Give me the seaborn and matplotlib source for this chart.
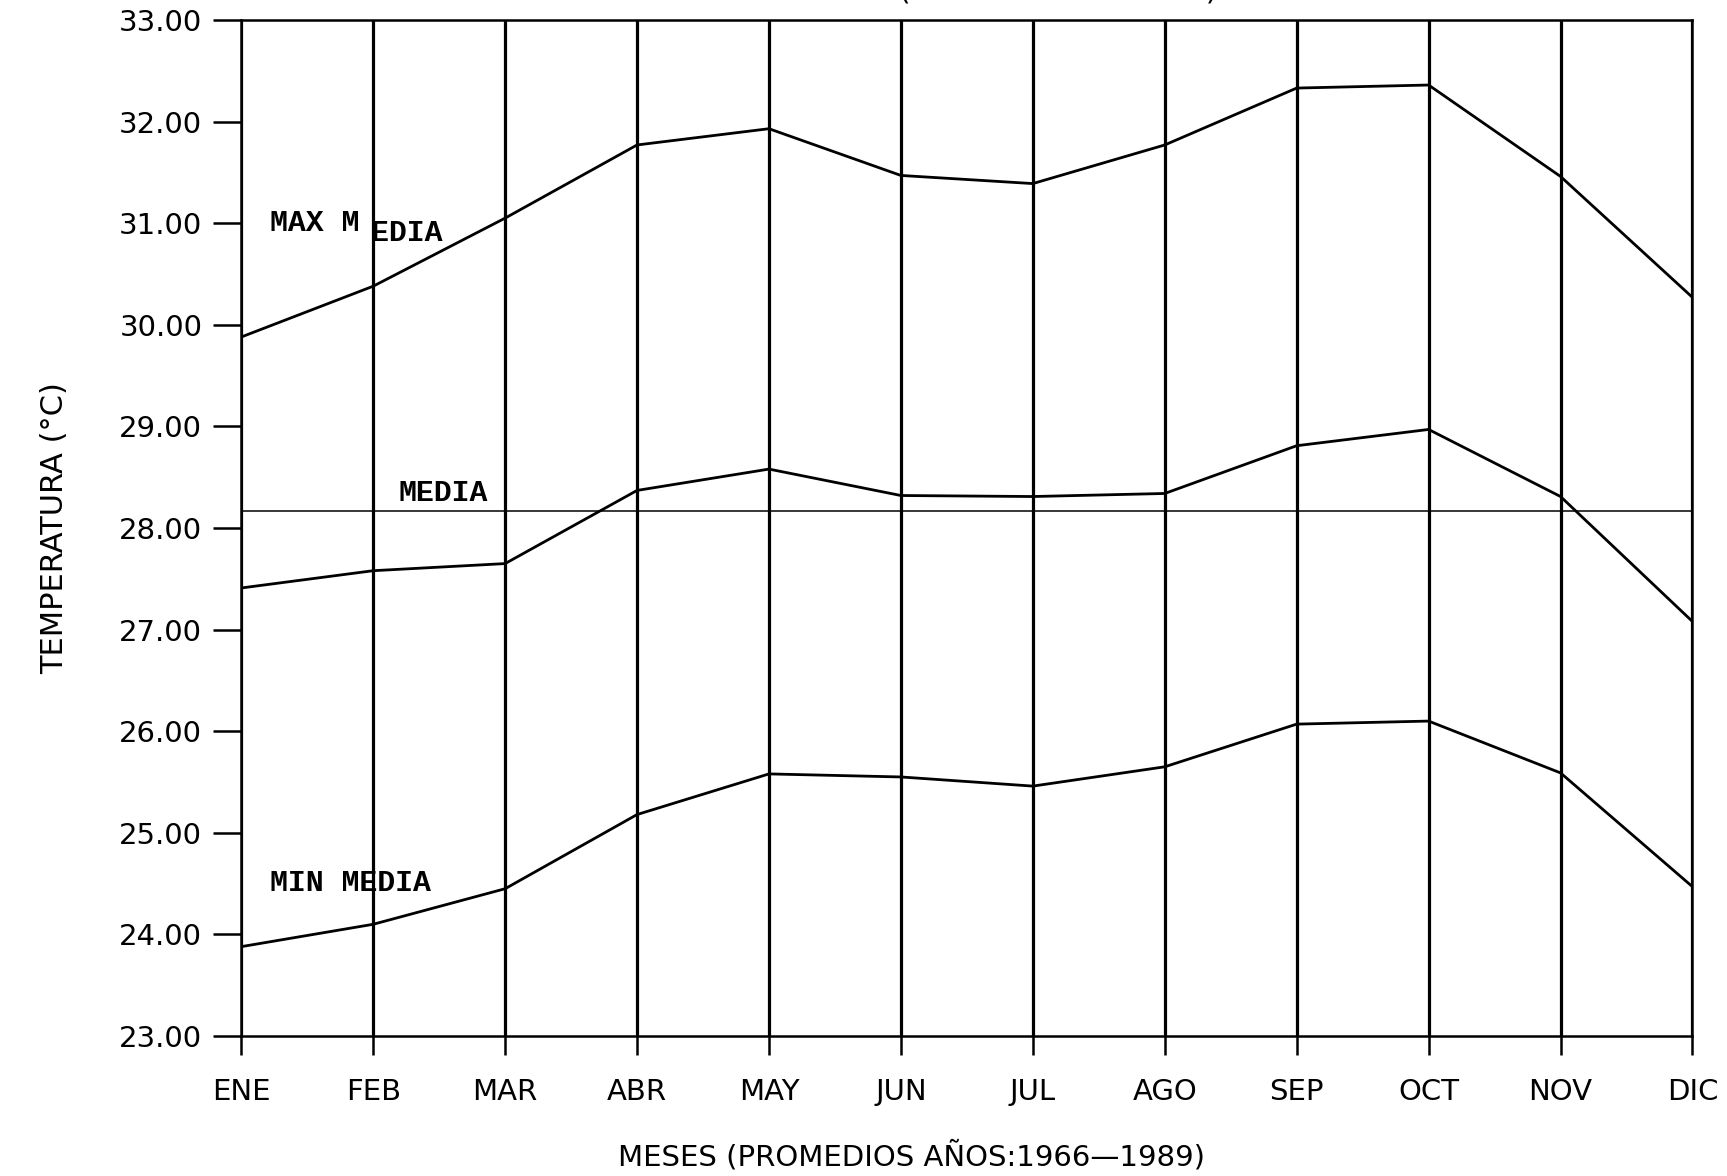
import matplotlib
matplotlib.use("Agg")
import matplotlib.pyplot as plt
import seaborn as sns
import pandas as pd

months = ["ENE", "FEB", "MAR", "ABR", "MAY", "JUN", "JUL", "AGO", "SEP", "OCT", "NOV", "DIC"]
max_media = [29.88, 30.38, 31.05, 31.77, 31.93, 31.47, 31.39, 31.77, 32.33, 32.36, 31.46, 30.27]
media = [27.41, 27.58, 27.65, 28.37, 28.58, 28.32, 28.31, 28.34, 28.81, 28.97, 28.31, 27.08]
min_media = [23.88, 24.10, 24.45, 25.18, 25.58, 25.55, 25.46, 25.65, 26.07, 26.10, 25.59, 24.47]
media_anual = 28.17
yticks = [23, 24, 25, 26, 27, 28, 29, 30, 31, 32, 33]

df = pd.DataFrame({
    "mes": list(range(len(months))) * 3,
    "temp": max_media + media + min_media,
    "serie": ["MAX MEDIA"] * 12 + ["MEDIA"] * 12 + ["MIN MEDIA"] * 12,
})

sns.set_style("white")
plt.rcParams["font.family"] = ["DejaVu Sans"]
plt.rcParams["text.color"] = "black"
plt.rcParams["axes.labelcolor"] = "black"
plt.rcParams["xtick.color"] = "black"
plt.rcParams["ytick.color"] = "black"

fig = plt.figure(figsize=(17.27, 11.76), dpi=100)
ax = fig.add_axes([0.1397, 0.119, 0.8403, 0.864])

for x in range(len(months)):
    ax.axvline(x, color="black", lw=2.3, zorder=1)

sns.lineplot(data=df, x="mes", y="temp", units="serie", estimator=None,
             color="black", lw=2.0, ax=ax, legend=False, zorder=3)
ax.axhline(media_anual, color="black", lw=1.1, zorder=2)

ax.set_xlim(0, 11)
ax.set_ylim(23, 33)
ax.set_xticks(range(len(months)))
ax.set_xticklabels(months)
ax.set_yticks(yticks)
ax.set_yticklabels([f"{v:.2f}" for v in yticks])
ax.tick_params(axis="x", direction="out", length=14, width=1.8, pad=16,
               labelsize=21, bottom=True)
ax.tick_params(axis="y", direction="out", length=20, width=1.8, pad=8,
               labelsize=21, left=True)
for s in ax.spines.values():
    s.set_linewidth(1.8)
    s.set_color("black")

ax.set_xlabel("MESES (PROMEDIOS AÑOS:1966—1989)", fontsize=21)
ax.xaxis.label.set_va("center")
ax.xaxis.set_label_coords(0.462, -0.118)
ax.set_ylabel("TEMPERATURA (°C)", fontsize=22, labelpad=36)

mono = dict(family="Liberation Mono", fontweight="bold", fontsize=21.5,
            color="black", va="baseline")
ax.text(0.217, 30.92, "MAX M", **mono)
ax.text(0.985, 30.82, "EDIA", **mono)
ax.text(1.19, 28.27, "MEDIA", **mono)
ax.text(0.217, 24.43, "MIN MEDIA", **mono)

fig.text(0.529, 1.007, "PUNTA DE PIEDRAS (ISLA DE MARGARITA)", ha="center",
         va="center", fontsize=21)

fig.savefig("out.png", dpi=100, facecolor="white")
